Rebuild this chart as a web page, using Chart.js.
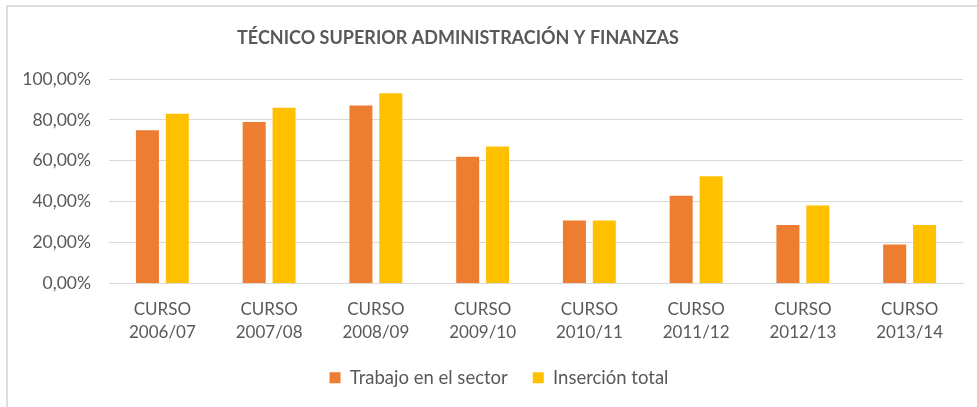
<!DOCTYPE html>
<html>
<head>
<meta charset="utf-8">
<script src="https://cdn.jsdelivr.net/npm/chart.js@4/dist/chart.umd.min.js"></script>
<style>
  html, body { margin: 0; padding: 0; background: #ffffff; }
  #wrap { position: relative; width: 977px; height: 407px; }
  #frame { position: absolute; left: 6px; top: 5px; right: 0; bottom: -5px;
           border-top: 2px solid #dedede; border-left: 2px solid #dedede; pointer-events: none; }
  canvas { position: absolute; left: 0; top: 0; }
</style>
</head>
<body>
<div id="wrap">
  <canvas id="c" width="977" height="407"></canvas>
  <div id="frame"></div>
</div>
<script>
const chartTitle = 'TÉCNICO SUPERIOR ADMINISTRACIÓN Y FINANZAS';
const cursos = ['2006/07', '2007/08', '2008/09', '2009/10', '2010/11', '2011/12', '2012/13', '2013/14'];
const seriesNames = ['Trabajo en el sector', 'Inserción total'];
const trabajoSector = [75.0, 79.0, 87.0, 62.0, 30.8, 42.9, 28.6, 19.1];
const insercionTotal = [83.0, 86.0, 93.0, 67.0, 30.8, 52.4, 38.1, 28.6];
const yTicks = [0, 20, 40, 60, 80, 100];

const FONT = 'Lato, "Open Sans", sans-serif';
const GRAY = '#595959';

const titlePlugin = {
  id: 'customTitle',
  afterLayout(chart) {
    // nudge the legend to the reference position
    const lg = chart.legend;
    lg.left += 10; lg.right += 10;
    lg.top -= 3; lg.bottom -= 3;
  },
  afterDraw(chart) {
    const ctx = chart.ctx;
    ctx.save();
    ctx.font = 'bold 18px ' + FONT;
    ctx.fillStyle = GRAY;
    ctx.textAlign = 'center';
    ctx.textBaseline = 'middle';
    ctx.fillText(chartTitle, 458, 38);
    ctx.restore();
  }
};

new Chart(document.getElementById('c'), {
  type: 'bar',
  data: {
    labels: cursos.map(c => ['CURSO', c]),
    datasets: [
      { label: seriesNames[0], data: trabajoSector, backgroundColor: '#ED7D31' },
      { label: seriesNames[1], data: insercionTotal, backgroundColor: '#FFC000' }
    ]
  },
  options: {
    responsive: false,
    animation: false,
    devicePixelRatio: 1,
    layout: { padding: { left: 15, right: 14, top: 79, bottom: 7 } },
    datasets: { bar: { categoryPercentage: 0.56, barPercentage: 0.77 } },
    plugins: {
      title: { display: false },
      tooltip: { enabled: false },
      legend: {
        position: 'bottom',
        labels: {
          font: { family: FONT, size: 18.5 },
          color: GRAY,
          boxWidth: 11,
          boxHeight: 11,
          padding: 25
        }
      }
    },
    scales: {
      x: {
        afterFit(scale) { scale.height = 63; },
        grid: { display: false, drawTicks: false },
        border: { display: true, color: '#d9d9d9', width: 1 },
        ticks: {
          font: { family: FONT, size: 17, lineHeight: 1.35 },
          color: GRAY,
          padding: 15,
          maxRotation: 0
        }
      },
      y: {
        min: 0,
        max: 100,
        afterBuildTicks(scale) { scale.ticks = yTicks.map(v => ({ value: v })); },
        afterFit(scale) { scale.width = 94; },
        grid: { color: '#d9d9d9', lineWidth: 1, drawTicks: false },
        border: { display: false },
        ticks: {
          font: { family: FONT, size: 17.5 },
          color: GRAY,
          padding: 18,
          callback: v => v.toFixed(2).replace('.', ',') + '%'
        }
      }
    }
  },
  plugins: [titlePlugin]
});
</script>
</body>
</html>
